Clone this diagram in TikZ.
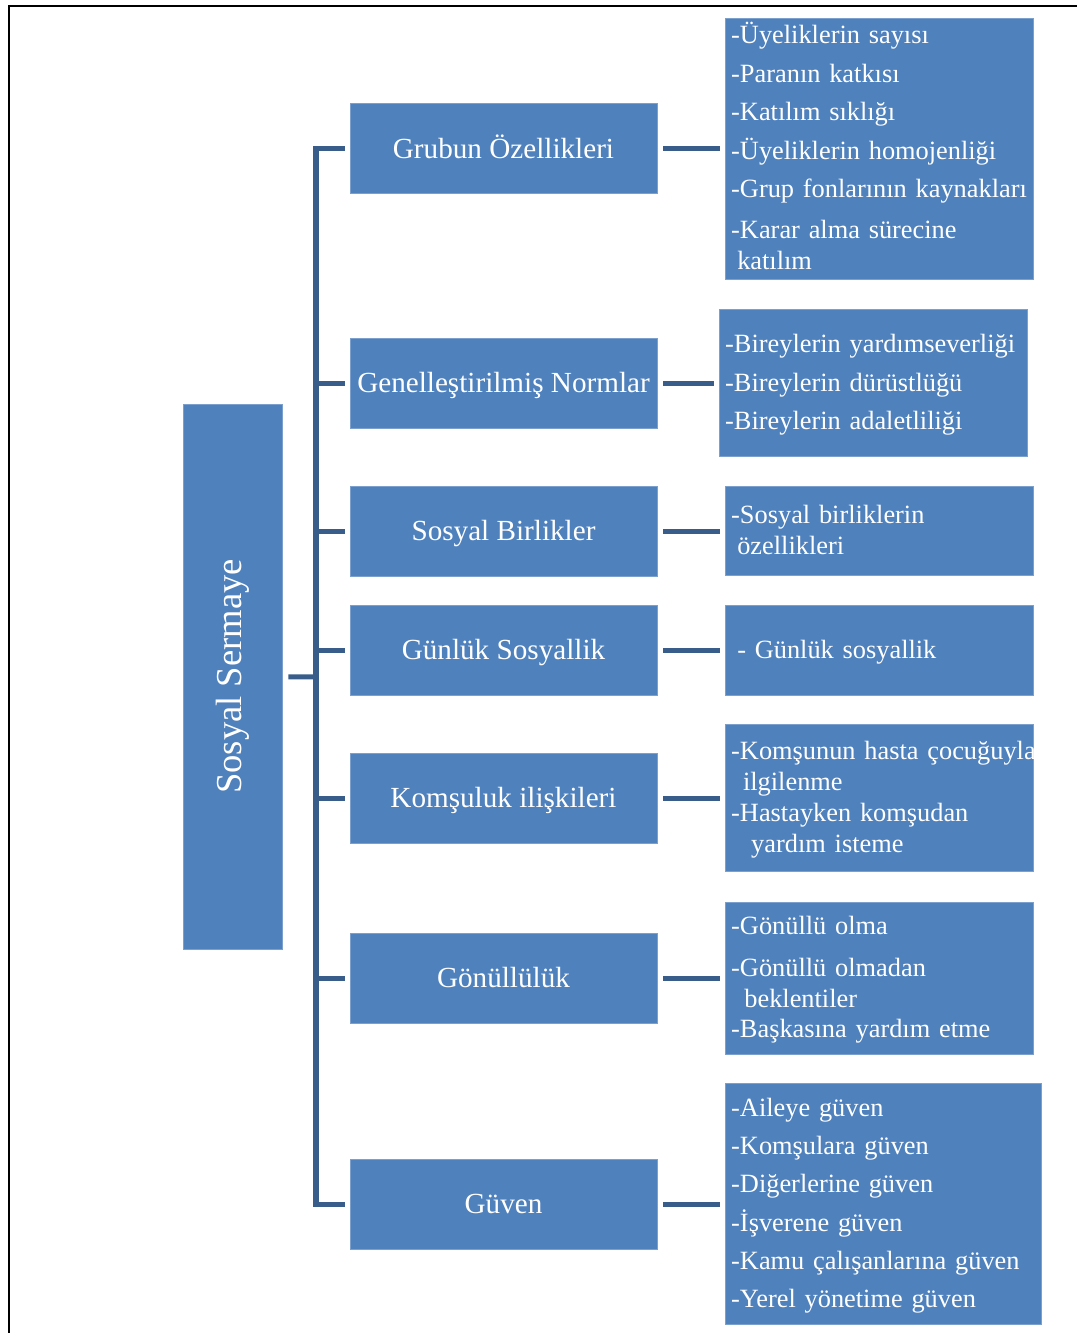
\documentclass[tikz,border=0pt]{standalone}
\usepackage{fontspec}
\setmainfont{Liberation Serif}
\usepackage{tikz}
\usetikzlibrary{positioning,calc}
\definecolor{BoxBlue}{RGB}{79,129,189}
\definecolor{LinkBlue}{RGB}{56,93,138}
\tikzset{
  root/.style={fill=BoxBlue,draw=BoxBlue!75!white,text=white,minimum width=10.9cm,
    minimum height=1.98cm,font=\fontsize{20.8}{24}\selectfont},
  dim/.style={fill=BoxBlue,draw=BoxBlue!75!white,text=white,minimum width=6.14cm,
    minimum height=1.8cm,text height=15pt,text depth=4pt,font=\fontsize{16.6}{20}\selectfont},
  items/.style={fill=BoxBlue,draw=BoxBlue!75!white,text=white,minimum width=6.16cm,
    text width=5.94cm,inner xsep=0.11cm,inner ysep=0pt,align=left,font=\fontsize{15}{17.6}\selectfont,
    execute at begin node={\rule{0pt}{13.5pt}},execute at end node={\rule[-4.4pt]{0pt}{0pt}}},
  link/.style={draw=LinkBlue,line width=2.85pt},
}

\begin{document}
\begin{tikzpicture}
\useasboundingbox (0,0) rectangle (21.54,-26.66);
\draw[line width=1.1pt] (0.18,-26.8) -- (0.18,-0.12) -- (21.7,-0.12);
\node[root,rotate=90] (ss) at (4.65,-13.53) {Sosyal Sermaye};
\node[dim] (ba) at (10.07,-2.97) {Grubun Özellikleri};
\node[dim] (bb) at (10.07,-7.66) {Genelleştirilmiş Normlar};
\node[dim] (bc) at (10.07,-10.62) {Sosyal Birlikler};
\node[dim] (bd) at (10.07,-13.0) {Günlük Sosyallik};
\node[dim] (be) at (10.07,-15.96) {Komşuluk ilişkileri};
\node[dim] (bf) at (10.07,-19.56) {Gönüllülük};
\node[dim] (bg) at (10.07,-24.08) {Güven};
\node[items,minimum height=5.22cm,right=1.36cm of ba] (la) {-Üyeliklerin sayısı\\[4.3pt]
  -Paranın katkısı\\[4.3pt] -Katılım sıklığı\\[4.3pt] -Üyeliklerin homojenliği\\[4.3pt]
  -Grup fonlarının kaynakları\\[5.7pt] -Karar alma sürecine\\ \hspace*{0.23em}katılım};
\node[items,minimum height=2.94cm,right=1.24cm of bb] (lb) {-Bireylerin yardımseverliği\\[4.3pt]
  -Bireylerin dürüstlüğü\\[4.3pt] -Bireylerin adaletliliği};
\node[items,minimum height=1.78cm,right=1.36cm of bc] (lc) {-Sosyal birliklerin\\
  \hspace*{0.23em}özellikleri};
\node[items,minimum height=1.8cm,right=1.36cm of bd] (ld) {\hspace*{0.23em}- Günlük sosyallik};
\node[items,minimum height=2.94cm,right=1.36cm of be] (le) {\mbox{-Komşunun hasta çocuğuyla}\\
  \hspace*{0.45em}ilgilenme\\ -Hastayken komşudan\\ \hspace*{0.76em}yardım isteme};
\node[items,minimum height=3.04cm,right=1.36cm of bf] (lf) {-Gönüllü olma\\[6.3pt]
  -Gönüllü olmadan\\ \hspace*{0.5em}beklentiler\\ -Başkasına yardım etme};
\node[items,minimum height=4.82cm,minimum width=6.32cm,text width=6.1cm,right=1.36cm of bg] (lg)
  {-Aileye güven\\[4.1pt] -Komşulara güven\\[4.1pt] -Diğerlerine güven\\[4.1pt]
  -İşverene güven\\[4.1pt] -Kamu çalışanlarına güven\\[4.1pt] -Yerel yönetime güven};
% trunk and branches
\coordinate (tr) at (6.32,-13.54);
\draw[link,shorten <=0.1cm,shorten >=0.1cm] (ba.west) -| (tr) |- (bg.west);
\draw[link,shorten <=0.12cm] (ss) -- (tr);
\draw[link,shorten >=0.1cm] (tr |- bb.west) -- (bb.west);
\draw[link,shorten >=0.1cm] (tr |- bc.west) -- (bc.west);
\draw[link,shorten >=0.1cm] (tr |- bd.west) -- (bd.west);
\draw[link,shorten >=0.1cm] (tr |- be.west) -- (be.west);
\draw[link,shorten >=0.1cm] (tr |- bf.west) -- (bf.west);
% to the lists
\draw[link,shorten <=0.12cm,shorten >=0.1cm] (ba) -- (la);
\draw[link,shorten <=0.12cm,shorten >=0.1cm] (bb) -- (lb);
\draw[link,shorten <=0.12cm,shorten >=0.1cm] (bc) -- (lc);
\draw[link,shorten <=0.12cm,shorten >=0.1cm] (bd) -- (ld);
\draw[link,shorten <=0.12cm,shorten >=0.1cm] (be) -- (le);
\draw[link,shorten <=0.12cm,shorten >=0.1cm] (bf) -- (lf);
\draw[link,shorten <=0.12cm,shorten >=0.1cm] (bg) -- (lg);
\end{tikzpicture}
\end{document}
